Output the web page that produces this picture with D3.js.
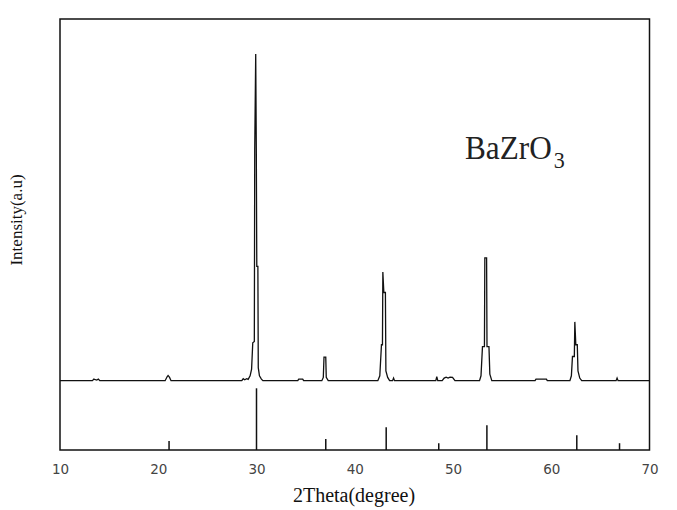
<!DOCTYPE html>
<html><head><meta charset="utf-8">
<script src="https://cdn.jsdelivr.net/npm/d3@7"></script>
<style>body{margin:0;background:#fff}svg{display:block}</style>
</head><body>
<svg id="c" width="677" height="510"></svg>
<script>
// Measured XRD pattern (2Theta in degrees, intensity in arbitrary units)
const twoTheta = [10.0,13.3,13.45,13.6,13.75,13.9,14.05,20.7,20.9,21.0,21.15,21.3,28.5,28.65,28.8,29.0,29.15,29.35,29.5,29.62,29.78,29.82,29.92,29.98,30.03,30.14,30.18,30.3,30.5,30.65,34.2,34.3,34.7,34.8,36.65,36.8,36.87,37.05,37.1,37.3,42.35,42.55,42.72,42.82,42.86,42.96,43.12,43.17,43.35,43.55,43.85,43.95,44.05,48.25,48.35,48.45,48.9,49.1,49.3,49.5,49.7,49.95,50.2,52.7,52.85,53.0,53.2,53.24,53.42,53.46,53.66,53.75,53.95,58.35,58.45,59.5,59.6,61.9,62.05,62.16,62.35,62.4,62.5,62.65,62.72,62.9,63.1,66.6,66.7,66.8,70.0];
const intensity = [0,0,0.5,0.3,0.2,0.5,0,0,1.2,1.6,1.0,0,0,0.6,0.3,0.6,0.4,1.5,3.5,11.6,12,71,100,71,35,35,4,1.5,0.5,0,0,0.5,0.5,0,0,1,7.2,7.2,1,0,0,1.5,11,11,33.3,27,27,3,1,0,0,0.8,0,0,1.2,0,0,0.8,1.1,0.8,1.1,1.0,0,0,1.5,10.4,10.4,37.6,37.6,10.4,10.4,2,0,0,0.5,0.5,0,0,1.5,7.4,7.4,18,11,11,3,0.8,0,0,0.8,0,0];
// Reference (standard) pattern sticks
const stickPos = [21.1,30.0,37.05,43.2,48.55,53.45,62.6,66.95];
const stickInt = [14.5,100,18,37,11,40,24,11];
// Axis
const xTicks = [10,20,30,40,50,60,70];
const xTitle = "2Theta(degree)";
const yTitle = "Intensity(a.u)";
const sampleName = "BaZrO";
const sampleSub = "3";

const svg = d3.select("#c");
const L=60, R=649.5, T=19, B=450;
const x = d3.scaleLinear().domain([10,70]).range([L,R]);
const y = d3.scaleLinear().domain([0,100]).range([380.7,54]);
const ys = d3.scaleLinear().domain([0,100]).range([B,388.3]);

// sticks
svg.append("g").selectAll("line").data(stickPos).join("line")
  .attr("x1",d=>x(d)).attr("x2",d=>x(d))
  .attr("y1",B).attr("y2",(d,i)=>ys(stickInt[i]))
  .attr("stroke","#111").attr("stroke-width",1.5);

// pattern
const pts = twoTheta.map((t,i)=>[t,intensity[i]]);
svg.append("path").datum(pts)
  .attr("d",d3.line().x(d=>x(d[0])).y(d=>y(d[1])))
  .attr("fill","none").attr("stroke","#111").attr("stroke-width",1.3)
  .attr("stroke-linejoin","miter");

// frame
svg.append("rect").attr("x",L).attr("y",T).attr("width",R-L).attr("height",B-T)
  .attr("fill","none").attr("stroke","#111").attr("stroke-width",1.5);

// x axis labels
const ax = svg.append("g").attr("transform",`translate(0,${B})`)
  .call(d3.axisBottom(x).tickValues(xTicks).tickSize(0).tickPadding(14).tickFormat(d3.format("d")));
ax.select(".domain").remove();
ax.selectAll("text").attr("font-family","DejaVu Sans").attr("font-size",13.5).attr("fill","#444");

svg.append("text").attr("x",354).attr("y",501.5).attr("text-anchor","middle")
  .attr("font-family","Liberation Serif").attr("font-size",20).attr("fill","#111").text(xTitle);
svg.append("text").attr("transform","translate(22,220) rotate(-90)").attr("text-anchor","middle")
  .attr("font-family","Liberation Serif").attr("font-size",17).attr("fill","#111").text(yTitle);

const lab = svg.append("text").attr("transform","translate(465,159) scale(0.92,1)")
  .attr("font-family","Liberation Serif").attr("fill","#222");
lab.append("tspan").attr("font-size",34).text(sampleName);
lab.append("tspan").attr("font-size",24).attr("dx",2).attr("dy",9).text(sampleSub);
</script>
</body></html>
